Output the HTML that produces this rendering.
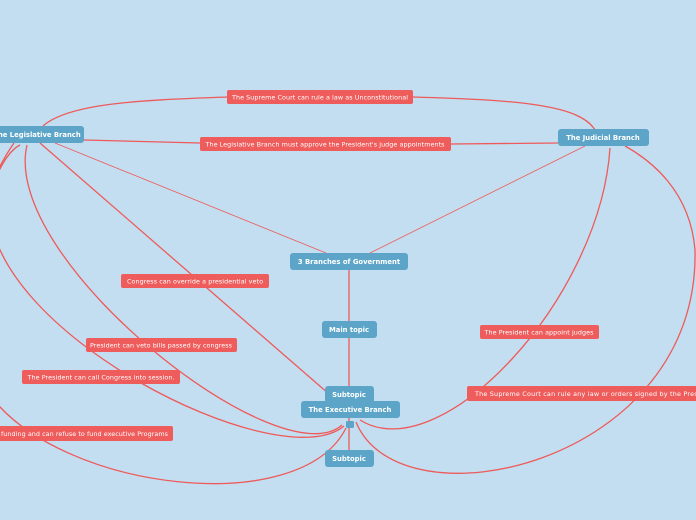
<!DOCTYPE html>
<html><head><meta charset="utf-8"><style>
html,body{margin:0;padding:0;background:#c3def0;}
svg{display:block;font-family:"DejaVu Sans","Liberation Sans",sans-serif;}
.l{fill:#ee5c5c;}
.lt{fill:#fff;font-size:6.4px;}
.n{fill:#5ca5c8;}
.nt{fill:#fff;font-size:6.8px;font-weight:bold;}
path{fill:none;stroke:#ee5a5a;stroke-width:1.3;}
</style></head><body>
<svg width="696" height="520" viewBox="0 0 696 520" xmlns="http://www.w3.org/2000/svg">
<rect width="696" height="520" fill="#c3def0"/>
<path d="M595,130 C580,105 520,100 413,97 M227,97 C150,100 70,102 43,126"/>
<path d="M558,143 L451,144 M200,143 L84,140"/>
<path d="M326,253 L55,143" style="stroke-width:0.8"/>
<path d="M370,253 L585,146" style="stroke-width:0.8"/>
<path d="M349,269 L349,321 M349,338 L349,386 M349,418 L349,450"/>
<path d="M329,394 L40,143"/>
<path d="M342,425 C280,480 0,260 27,145"/>
<path d="M344,426 C280,480 -20,330 -10,200 C-5,170 10,150 20,145"/>
<path d="M346,428 C300,520 60,490 -10,395 C-40,350 -40,220 14,143"/>
<path d="M360,420 C440,470 600,300 610,148"/>
<path d="M356,422 C400,530 700,465 695,250 C690,190 650,160 625,146"/>
<g fill="#ee5a5a">
<path d="M43,126 l-3,-4 l6,0z" style="stroke:none"/>
<path d="M349,321 l-3,-4 l6,0z" style="stroke:none"/>
<path d="M349,386 l-3,-4 l6,0z" style="stroke:none"/>
<path d="M27,143 l-3,4 l6,0z" style="stroke:none"/>
<path d="M20,143 l-3,4 l6,0z" style="stroke:none"/>
<path d="M610,146 l-3,4 l6,0z" style="stroke:none"/>
<path d="M358,420 l-1,5 l5,-2z" style="stroke:none"/>
</g>
<rect class="l" x="227" y="90" width="186" height="14" rx="2"/>
<text class="lt" x="320" y="99.5" text-anchor="middle" textLength="176">The Supreme Court can rule a law as Unconstitutional</text>
<rect class="l" x="200" y="137" width="251" height="14" rx="2"/>
<text class="lt" x="325" y="146.5" text-anchor="middle" textLength="239">The Legislative Branch must approve the President's judge appointments</text>
<rect class="l" x="121" y="274" width="148" height="14" rx="2"/>
<text class="lt" x="195" y="283.5" text-anchor="middle" textLength="136">Congress can override a presidential veto</text>
<rect class="l" x="86" y="338" width="151" height="14" rx="2"/>
<text class="lt" x="161" y="347.5" text-anchor="middle" textLength="142">President can veto bills passed by congress</text>
<rect class="l" x="22" y="370" width="158" height="14" rx="2"/>
<text class="lt" x="101" y="379.5" text-anchor="middle" textLength="147">The President can call Congress into session.</text>
<rect class="l" x="-10" y="426" width="183" height="15" rx="2"/>
<text class="lt" x="1" y="436" textLength="167">funding and can refuse to fund executive Programs</text>
<rect class="l" x="480" y="325" width="119" height="14" rx="2"/>
<text class="lt" x="539" y="334.5" text-anchor="middle" textLength="109">The President can appoint judges</text>
<rect class="l" x="467" y="386" width="240" height="15" rx="2"/>
<text class="lt" x="475" y="396" textLength="240">The Supreme Court can rule any law or orders signed by the President</text>
<rect class="n" x="-10" y="126" width="94" height="17" rx="3"/>
<text class="nt" x="37" y="137" text-anchor="middle">The Legislative Branch</text>
<rect class="n" x="558" y="129" width="91" height="17" rx="3"/>
<text class="nt" x="603" y="140" text-anchor="middle">The Judicial Branch</text>
<rect class="n" x="290" y="253" width="118" height="17" rx="3"/>
<text class="nt" x="349" y="264" text-anchor="middle">3 Branches of Government</text>
<rect class="n" x="322" y="321" width="55" height="17" rx="3"/>
<text class="nt" x="349" y="332" text-anchor="middle">Main topic</text>
<rect class="n" x="325" y="386" width="49" height="17" rx="3"/>
<text class="nt" x="349" y="397" text-anchor="middle">Subtopic</text>
<rect class="n" x="301" y="401" width="99" height="17" rx="3"/>
<text class="nt" x="350" y="412" text-anchor="middle">The Executive Branch</text>
<rect class="n" x="346" y="421" width="8" height="7" rx="1.5"/>
<rect class="n" x="325" y="450" width="49" height="17" rx="3"/>
<text class="nt" x="349" y="461" text-anchor="middle">Subtopic</text>
</svg>
</body></html>
